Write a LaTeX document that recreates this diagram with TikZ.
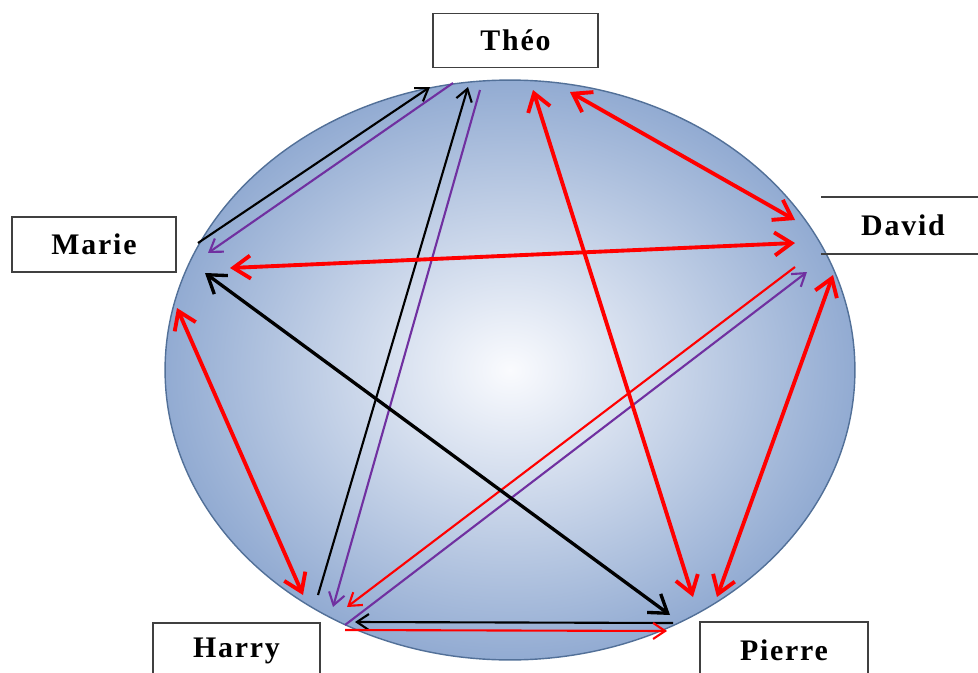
\documentclass[tikz,border=0pt]{standalone}
\usepackage{fontspec}
\setmainfont{Liberation Serif}
\newfontfamily\namefont[LetterSpace=6]{Liberation Serif}
\usetikzlibrary{arrows.meta}

\definecolor{ballin}{RGB}{250,251,254}
\definecolor{ballout}{RGB}{146,171,210}
\definecolor{ballrim}{RGB}{82,112,152}
\definecolor{lilac}{RGB}{112,48,160}

\tikzset{
  redtip/.tip={Straight Barb[length=3.4mm,width=4.6mm]},
  thintip/.tip={Straight Barb[length=2.4mm,width=3.2mm]},
  namebox/.style={draw=black!75, line width=0.9pt, fill=white, minimum width=3.3cm, minimum height=1.08cm, font=\namefont\bfseries\fontsize{17}{19}\selectfont},
  fatred/.style={red, line width=2.2pt, redtip-redtip},
  thinred/.style={red, line width=1.2pt, -thintip},
  thinlilac/.style={lilac, line width=1.2pt, -thintip},
  thinblack/.style={black, line width=1.2pt, -thintip},
  fatblack/.style={black, line width=1.9pt, redtip-redtip}
}

\begin{document}
\begin{tikzpicture}[x=0.02cm, y=-0.02cm]
\useasboundingbox (0,0) rectangle (978,673);
\shade[inner color=ballin, outer color=ballout, draw=ballrim, line width=0.8pt] (510,370) ellipse [x radius=6.9cm, y radius=5.8cm];

\node[namebox] (theo) at (515.5,40.5) {Théo};
\node[namebox, minimum width=3.28cm, minimum height=1.1cm] (marie) at (94,244.5) {Marie};
\node[namebox, minimum width=3.34cm, minimum height=1.12cm] (harry) at (236.5,651) {Harry};
\node[namebox, minimum width=3.36cm, minimum height=1.12cm] (pierre) at (784,650) {Pierre};
\node[namebox, draw=none, fill=none, minimum width=3.24cm, minimum height=1.1cm] (david) at (903,225.5) {David};
\draw[black!75, line width=0.9pt] (david.north west) -- (david.north east) (david.south west) -- (david.south east);

\coordinate (t1) at (430,87);
\coordinate (t2) at (453,83);
\coordinate (t3) at (468,87);
\coordinate (t4) at (480,90);
\coordinate (t5) at (533,90);
\coordinate (t6) at (570,92);
\coordinate (m1) at (198,243);
\coordinate (m2) at (208,253);
\coordinate (m3) at (230,268);
\coordinate (m4) at (205,273);
\coordinate (m5) at (177,308);
\coordinate (d1) at (795,220);
\coordinate (d2) at (795,243);
\coordinate (d3) at (795,267);
\coordinate (d4) at (807,272);
\coordinate (d5) at (833,275);
\coordinate (h1) at (303,595);
\coordinate (h2) at (318,595);
\coordinate (h3) at (333,607);
\coordinate (h4) at (347,607);
\coordinate (h5) at (345,625);
\coordinate (h6) at (355,622);
\coordinate (h7) at (345,630);
\coordinate (p1) at (693,597);
\coordinate (p2) at (670,615);
\coordinate (p3) at (717,597);
\coordinate (p4) at (673,623);
\coordinate (p5) at (667,631);

\draw[thinblack] (m1) -- (t1);
\draw[thinlilac] (t2) -- (m2);
\draw[thinblack] (h2) -- (t3);
\draw[thinlilac] (t4) -- (h3);
\draw[thinred] (d3) -- (h4);
\draw[thinlilac] (h5) -- (d4);
\draw[thinblack] (p4) -- (h6);
\draw[thinred] (h7) -- (p5);
\draw[fatblack] (m4) -- (p2);
\draw[fatred] (t5) -- (p1);
\draw[fatred] (t6) -- (d1);
\draw[fatred] (d2) -- (m3);
\draw[fatred] (m5) -- (h1);
\draw[fatred] (d5) -- (p3);
\end{tikzpicture}
\end{document}
